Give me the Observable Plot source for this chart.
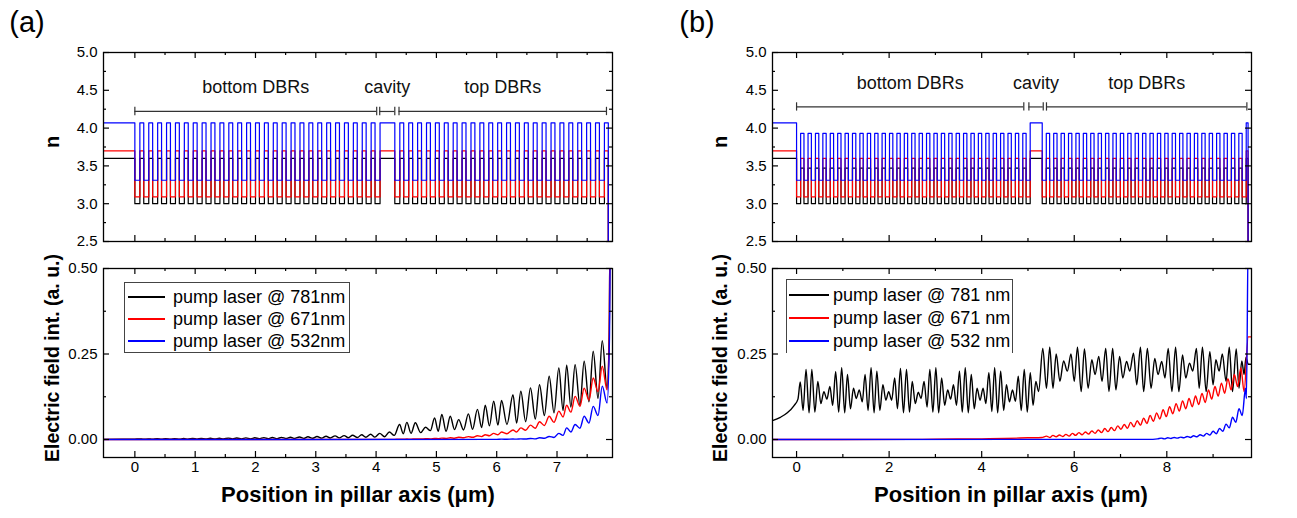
<!DOCTYPE html>
<html><head><meta charset="utf-8">
<script src="https://cdn.jsdelivr.net/npm/d3@7"></script>
<script src="https://cdn.jsdelivr.net/npm/@observablehq/plot@0.6"></script>
<style>
body{margin:0;background:#fff;font-family:"Liberation Sans",Arial,sans-serif;}
#root{position:relative;width:1297px;height:518px;overflow:hidden;background:#fff;}
.t{position:absolute;white-space:nowrap;color:#000;}
.legend{position:absolute;background:#fff;border:1px solid #444;font-size:18px;}
.legend .sw{position:absolute;height:0;border-top:2px solid;}
.legend .lb{position:absolute;line-height:22px;}
</style></head><body><div id="root"></div>
<script>
// ---------------- DATA ----------------
const panelLabels = ["(a)", "(b)"];
const xTitle = "Position in pillar axis (\u03bcm)";
const yTitleTop = "n";
const yTitleBottom = "Electric field int. (a. u.)";
const seriesColors = ["#000000", "#ff0000", "#0000ff"];
const legendA = ["pump laser @ 781nm", "pump laser @ 671nm", "pump laser @ 532nm"];
const legendB = ["pump laser @ 781 nm", "pump laser @ 671 nm", "pump laser @ 532 nm"];

// refractive index per material: [781 nm, 671 nm, 532 nm]
const materials = ["GaAs", "AlAs", "AlGaAs", "Air"];
const n781 = [3.60, 3.00, 3.47, 1.0];
const n671 = [3.70, 3.09, 3.60, 1.0];
const n532 = [4.07, 3.31, 3.93, 1.0];

// layer stacks: [materials, thicknesses (um), repeats]
const stackStartA = -0.52;
const stackA = [
  [["GaAs"], [0.52], 1],
  [["AlAs", "GaAs"], [0.083, 0.0645], 27],
  [["AlAs"], [0.083], 1],
  [["GaAs"], [0.245], 1],
  [["AlAs", "GaAs"], [0.083, 0.0645], 24],
  [["Air"], [0.2], 1]
];
const stackStartB = -0.52;
const stackB = [
  [["GaAs"], [0.52], 1],
  [["AlAs", "AlGaAs"], [0.088, 0.072], 31],
  [["AlAs"], [0.088], 1],
  [["GaAs"], [0.26], 1],
  [["AlAs", "AlGaAs"], [0.088, 0.072], 27],
  [["AlAs"], [0.088], 1],
  [["GaAs"], [0.04], 1],
  [["Air"], [0.2], 1]
];

// region brackets
const regionNames = ["bottom DBRs", "cavity", "top DBRs"];
const regionStartA = [0, 4.06, 4.38];
const regionEndA = [4.01, 4.31, 7.82];
const bracketNA = 4.22;
const regionStartB = [0, 5.02, 5.40];
const regionEndB = [4.91, 5.33, 9.73];
const bracketNB = 4.28;

// electric field intensity [x (um), value]
const efA781 = [[-0.52,0.0005],[-0.2,0.0008],[0,0.001],
[0.07,0.002],[0.15,0.0006],[0.22,0.002],[0.29,0.0007],[0.37,0.0022],[0.44,0.0008],[0.51,0.0024],[0.59,0.0009],[0.66,0.0026],[0.74,0.001],[0.81,0.0028],[0.88,0.0011],[0.96,0.003],[1.03,0.0012],[1.10,0.0033],[1.18,0.0013],[1.25,0.0035],[1.33,0.0014],[1.40,0.0038],[1.47,0.0016],[1.55,0.004],[1.62,0.0017],[1.69,0.0043],[1.77,0.0019],[1.84,0.0047],[1.92,0.002],[1.99,0.005],[2.06,0.0022],[2.14,0.0054],[2.21,0.0024],[2.28,0.0058],[2.36,0.0026],[2.43,0.0063],[2.51,0.0028],[2.58,0.0068],[2.65,0.003],[2.73,0.0074],[2.80,0.0033],[2.87,0.008],[2.95,0.0036],[3.02,0.0088],[3.10,0.004],[3.17,0.0096],[3.24,0.0044],[3.32,0.0105],[3.39,0.0048],[3.47,0.0115],[3.54,0.0053],[3.61,0.0126],[3.69,0.0058],[3.76,0.014],[3.83,0.0065],[3.91,0.0155],[3.98,0.007],
[4.06,0.018],[4.14,0.008],[4.22,0.022],[4.30,0.012],
[4.39,0.044],[4.45,0.017],[4.51,0.05],[4.58,0.018],[4.65,0.049],[4.74,0.02],[4.82,0.036],[4.90,0.026],[4.97,0.063],[5.03,0.024],[5.09,0.073],[5.16,0.024],[5.23,0.068],[5.30,0.029],[5.37,0.058],[5.45,0.028],[5.53,0.075],[5.60,0.03],[5.68,0.088],[5.75,0.035],[5.81,0.1],[5.88,0.04],[5.95,0.112],[6.02,0.042],[6.08,0.114],[6.17,0.044],[6.27,0.131],[6.33,0.048],[6.40,0.141],[6.48,0.052],[6.56,0.151],[6.64,0.06],[6.71,0.16],[6.79,0.07],[6.87,0.185],[6.95,0.078],[7.03,0.209],[7.10,0.085],[7.16,0.217],[7.23,0.095],[7.30,0.219],[7.38,0.1],[7.45,0.229],[7.53,0.11],[7.60,0.258],[7.68,0.12],[7.75,0.289],[7.83,0.15],[7.865,0.3],[7.88,0.6],[7.95,0.6]];

const efA671 = [[-0.52,0],[4.3,0.0003],
[4.39,0.001],[4.45,0.0007],[4.51,0.0015],[4.58,0.001],[4.65,0.002],[4.74,0.0014],[4.82,0.0025],[4.90,0.0018],[4.97,0.0032],[5.03,0.0024],[5.09,0.004],[5.16,0.003],[5.23,0.005],[5.30,0.0038],[5.37,0.0065],[5.45,0.005],[5.53,0.0085],[5.60,0.0065],[5.68,0.011],[5.75,0.0085],[5.81,0.014],[5.88,0.011],[5.95,0.018],[6.02,0.014],[6.08,0.022],[6.17,0.017],[6.27,0.028],[6.33,0.022],[6.40,0.034],[6.48,0.027],[6.56,0.042],[6.64,0.033],[6.71,0.052],[6.79,0.041],[6.87,0.068],[6.95,0.05],[7.03,0.083],[7.10,0.066],[7.16,0.1],[7.23,0.08],[7.30,0.126],[7.38,0.097],[7.45,0.15],[7.53,0.115],[7.60,0.18],[7.68,0.14],[7.75,0.214],[7.83,0.145],[7.865,0.3],[7.88,0.6],[7.95,0.6]];

const efA532 = [[-0.52,0],[6.0,0.0003],[6.08,0.001],[6.17,0.0006],[6.27,0.0015],[6.33,0.001],[6.40,0.002],[6.48,0.0014],[6.56,0.003],[6.64,0.002],[6.71,0.005],[6.79,0.0035],[6.87,0.009],[6.95,0.006],[7.03,0.018],[7.10,0.012],[7.16,0.034],[7.23,0.022],[7.30,0.044],[7.38,0.033],[7.45,0.068],[7.53,0.048],[7.60,0.097],[7.68,0.07],[7.75,0.156],[7.83,0.107],[7.87,0.3],[7.885,0.6],[7.95,0.6]];

const efB781 = [[-0.52,0.055],[-0.35,0.065],[-0.2,0.078],[-0.05,0.1],[0.03,0.118],
[0.08,0.168],[0.14,0.085],[0.205,0.205],[0.27,0.078],[0.33,0.205],[0.395,0.08],[0.46,0.17],[0.525,0.105],[0.59,0.14],[0.655,0.118],
[0.72,0.155],[0.78,0.1],[0.845,0.198],[0.91,0.08],[0.975,0.21],[1.04,0.078],[1.10,0.19],[1.165,0.09],[1.23,0.15],[1.29,0.12],
[1.355,0.145],[1.42,0.11],[1.48,0.19],[1.545,0.085],[1.61,0.21],[1.675,0.078],[1.735,0.2],[1.80,0.085],[1.865,0.16],[1.93,0.115],
[1.99,0.14],[2.055,0.115],[2.12,0.18],[2.18,0.09],[2.245,0.208],[2.31,0.078],[2.375,0.205],[2.44,0.08],[2.50,0.17],[2.565,0.105],
[2.63,0.138],[2.69,0.12],[2.755,0.17],[2.82,0.095],[2.88,0.205],[2.945,0.08],[3.01,0.21],[3.07,0.078],[3.135,0.18],[3.20,0.1],
[3.265,0.145],[3.33,0.118],[3.39,0.16],[3.455,0.1],[3.52,0.2],[3.58,0.08],[3.645,0.21],[3.71,0.078],[3.775,0.19],[3.84,0.09],
[3.90,0.15],[3.965,0.115],[4.03,0.15],[4.09,0.105],[4.155,0.195],[4.22,0.082],[4.28,0.21],[4.345,0.078],[4.41,0.2],[4.475,0.085],
[4.535,0.16],[4.60,0.11],[4.665,0.145],[4.73,0.112],[4.79,0.185],[4.855,0.085],[4.92,0.205],[4.985,0.08],[5.05,0.195],[5.11,0.1],
[5.17,0.17],[5.23,0.14],
[5.32,0.266],[5.40,0.15],[5.47,0.27],[5.54,0.15],[5.61,0.25],[5.69,0.17],[5.77,0.23],[5.85,0.2],[5.93,0.25],[6.00,0.17],[6.07,0.27],[6.15,0.14],[6.22,0.265],[6.30,0.15],[6.38,0.233],[6.45,0.19],[6.53,0.243],[6.60,0.17],[6.68,0.266],[6.75,0.14],[6.83,0.266],[6.90,0.145],[6.98,0.243],[7.05,0.18],[7.13,0.228],[7.20,0.2],[7.28,0.252],[7.35,0.16],[7.43,0.27],[7.50,0.14],[7.58,0.266],[7.66,0.15],[7.74,0.237],[7.81,0.19],[7.89,0.228],[7.96,0.18],[8.03,0.266],[8.11,0.14],[8.19,0.27],[8.26,0.14],[8.34,0.247],[8.41,0.18],[8.49,0.223],[8.56,0.2],[8.64,0.266],[8.70,0.15],[8.77,0.27],[8.85,0.14],[8.93,0.257],[9.00,0.16],[9.06,0.233],[9.13,0.2],[9.20,0.25],[9.28,0.17],[9.35,0.27],[9.42,0.14],[9.50,0.265],[9.56,0.15],[9.62,0.23],[9.67,0.19],[9.71,0.24],[9.76,0.22],[9.85,0.22]];

const efB671 = [[-0.52,0],[2.5,0.0003],[3.0,0.001],[3.5,0.0015],[4.0,0.002],[4.5,0.003],[5.0,0.005],[5.3,0.006],
[5.40,0.01],[5.47,0.006],[5.54,0.012],[5.61,0.008],[5.68,0.013],[5.75,0.009],[5.82,0.015],[5.89,0.01],[5.96,0.018],[6.03,0.012],[6.10,0.02],[6.17,0.014],[6.24,0.022],[6.31,0.016],[6.38,0.025],[6.45,0.018],[6.52,0.028],[6.59,0.02],[6.66,0.032],[6.73,0.023],[6.80,0.035],[6.87,0.026],[6.94,0.04],[7.01,0.03],[7.08,0.044],[7.15,0.033],[7.22,0.05],[7.29,0.037],[7.36,0.055],[7.43,0.042],[7.50,0.062],[7.57,0.047],[7.64,0.07],[7.71,0.053],[7.78,0.078],[7.85,0.06],[7.92,0.087],[7.99,0.067],[8.06,0.096],[8.13,0.075],[8.20,0.105],[8.27,0.083],[8.34,0.113],[8.41,0.09],[8.48,0.12],[8.55,0.096],[8.62,0.127],[8.69,0.102],[8.76,0.135],[8.83,0.108],[8.90,0.145],[8.97,0.118],[9.04,0.155],[9.11,0.127],[9.18,0.165],[9.25,0.135],[9.32,0.178],[9.39,0.145],[9.46,0.19],[9.53,0.155],[9.60,0.21],[9.67,0.14],[9.76,0.3],[9.85,0.3]];

const efB532 = [[-0.52,0],[7.6,0.0005],[7.8,0.002],[7.88,0.004],[7.95,0.002],[8.02,0.005],[8.09,0.003],[8.16,0.006],[8.23,0.004],[8.30,0.007],[8.37,0.005],[8.44,0.009],[8.51,0.006],[8.58,0.011],[8.65,0.008],[8.72,0.014],[8.79,0.01],[8.86,0.018],[8.93,0.013],[9.00,0.024],[9.07,0.017],[9.14,0.032],[9.21,0.024],[9.28,0.045],[9.35,0.034],[9.42,0.065],[9.49,0.05],[9.56,0.09],[9.63,0.07],[9.70,0.15],[9.72,0.12],[9.76,0.6],[9.85,0.6]];

// axis ticks
const xMajorA = [0,1,2,3,4,5,6,7], xMinorA = [0.5,1.5,2.5,3.5,4.5,5.5,6.5,7.5];
const xMajorB = [0,2,4,6,8], xMinorB = [1,3,5,7,9];
const nMajor = [2.5,3.0,3.5,4.0,4.5,5.0], nMinor = [2.75,3.25,3.75,4.25,4.75];
const eMajor = [0,0.25,0.5], eMinor = [0.125,0.375];

// ---------------- DRAWING ----------------
const root = document.getElementById("root");
const FONT = "'Liberation Sans', Arial, sans-serif";
const nTables = [n781, n671, n532];

function stackProfile(stack, x0, w) {
  const pts = []; let x = x0;
  for (const [mats, ths, reps] of stack)
    for (let r = 0; r < reps; r++)
      for (let i = 0; i < mats.length; i++) {
        pts.push({x, n: nTables[w][materials.indexOf(mats[i])]});
        x += ths[i];
      }
  pts.push({x, n: pts[pts.length - 1].n});
  return pts;
}

function panel(cfg) {
  const mL = 50, mR = 8, mT = 6, mB = 30;
  const iw = cfg.fw, ih = cfg.fh;
  const marks = [
    ...cfg.marks,
    Plot.frame({stroke: "#000", strokeWidth: 1.3}),
    Plot.tickX(cfg.xMajor, {x: d => d, insetTop: ih - 6, stroke: "#000", strokeWidth: 1.2}),
    Plot.tickX(cfg.xMajor, {x: d => d, insetBottom: ih - 6, stroke: "#000", strokeWidth: 1.2}),
    Plot.tickX(cfg.xMinor, {x: d => d, insetTop: ih - 3, stroke: "#000", strokeWidth: 1.2}),
    Plot.tickX(cfg.xMinor, {x: d => d, insetBottom: ih - 3, stroke: "#000", strokeWidth: 1.2}),
    Plot.tickY(cfg.yMajor, {y: d => d, insetRight: iw - 6, stroke: "#000", strokeWidth: 1.2}),
    Plot.tickY(cfg.yMajor, {y: d => d, insetLeft: iw - 6, stroke: "#000", strokeWidth: 1.2}),
    Plot.tickY(cfg.yMinor, {y: d => d, insetRight: iw - 3, stroke: "#000", strokeWidth: 1.2}),
    Plot.tickY(cfg.yMinor, {y: d => d, insetLeft: iw - 3, stroke: "#000", strokeWidth: 1.2}),
    Plot.text(cfg.yMajor, {y: d => d, text: cfg.yFmt, frameAnchor: "left", textAnchor: "end", dx: -6, fontSize: 15, fill: "#000"})
  ];
  if (cfg.xLabels) marks.push(Plot.text(cfg.xMajor, {x: d => d, text: d => String(d), frameAnchor: "bottom", dy: 14, fontSize: 15, fill: "#000"}));
  const svg = Plot.plot({
    width: iw + mL + mR, height: ih + mT + mB,
    marginLeft: mL, marginRight: mR, marginTop: mT, marginBottom: mB,
    x: {domain: cfg.xDomain, axis: null},
    y: {domain: cfg.yDomain, axis: null},
    style: {fontFamily: FONT, background: "transparent", overflow: "visible"},
    marks
  });
  svg.style.position = "absolute";
  svg.style.left = (cfg.left - mL) + "px";
  svg.style.top = (cfg.top - mT) + "px";
  root.appendChild(svg);
}

function topMarks(stack, x0, starts, ends, by) {
  const regions = regionNames.map((name, i) => ({name, s: starts[i], e: ends[i]}));
  const m = [];
  [0, 1, 2].forEach(w => {
    m.push(Plot.line(stackProfile(stack, x0, w), {x: "x", y: "n", curve: "step-after", stroke: seriesColors[w], strokeWidth: 1.2, clip: true}));
  });
  m.push(Plot.ruleY(regions, {y: () => by, x1: "s", x2: "e", stroke: "#333", strokeWidth: 1.2}));
  m.push(Plot.ruleX(regions, {x: "s", y1: by - 0.055, y2: by + 0.055, stroke: "#333", strokeWidth: 1.2}));
  m.push(Plot.ruleX(regions, {x: "e", y1: by - 0.055, y2: by + 0.055, stroke: "#333", strokeWidth: 1.2}));
  m.push(Plot.text(regions, {x: d => (d.s + d.e) / 2, y: () => by, dy: -24, text: "name", fontSize: 18, fill: "#111"}));
  return m;
}

function fieldMarks(series) {
  return series.map((s, w) => Plot.line(s, {x: d => d[0], y: d => d[1], curve: "monotone-x", stroke: seriesColors[w], strokeWidth: 1.4, clip: true}));
}

const A = {left: 103, fw: 509, xDomain: [-0.52, 7.92], xMajor: xMajorA, xMinor: xMinorA};
const B = {left: 772, fw: 479, xDomain: [-0.52, 9.83], xMajor: xMajorB, xMinor: xMinorB};
const TOP = {top: 52, fh: 189, yDomain: [2.5, 5.0], yMajor: nMajor, yMinor: nMinor, yFmt: d => d.toFixed(1)};
const BOT = {top: 268, fh: 189, yDomain: [-0.0526, 0.5], yMajor: eMajor, yMinor: eMinor, yFmt: d => d.toFixed(2), xLabels: true};

panel({...A, ...TOP, marks: topMarks(stackA, stackStartA, regionStartA, regionEndA, bracketNA)});
panel({...A, ...BOT, marks: fieldMarks([efA781, efA671, efA532])});
panel({...B, ...TOP, marks: topMarks(stackB, stackStartB, regionStartB, regionEndB, bracketNB)});
panel({...B, ...BOT, marks: fieldMarks([efB781, efB671, efB532])});

// texts
function text(str, cx, cy, size, weight, rotate) {
  const d = document.createElement("div");
  d.className = "t";
  d.textContent = str;
  d.style.fontSize = size + "px";
  d.style.fontWeight = weight;
  d.style.left = cx + "px"; d.style.top = cy + "px";
  d.style.transform = "translate(-50%,-50%)" + (rotate ? " rotate(-90deg)" : "");
  root.appendChild(d);
}
text(panelLabels[0], 27, 22, 29, "normal");
text(panelLabels[1], 697, 22, 29, "normal");
text(yTitleTop, 52, 142, 20, "bold", true);
text(yTitleTop, 720, 142, 20, "bold", true);
text(yTitleBottom, 52, 358, 19.5, "bold", true);
text(yTitleBottom, 720, 358, 19.5, "bold", true);
text(xTitle, 358, 495, 22, "bold");
text(xTitle, 1011, 495, 22, "bold");

function legend(labels, left, top, w, h, rowTops, swL, swW, txtL, noBottom) {
  const d = document.createElement("div");
  d.className = "legend";
  d.style.left = left + "px"; d.style.top = top + "px";
  d.style.width = w + "px"; d.style.height = h + "px";
  if (noBottom) d.style.borderBottom = "none";
  labels.forEach((lab, i) => {
    const sw = document.createElement("div");
    sw.className = "sw"; sw.style.borderColor = seriesColors[i];
    sw.style.left = swL + "px"; sw.style.width = swW + "px"; sw.style.top = (rowTops[i] - 1) + "px";
    d.appendChild(sw);
    const t = document.createElement("div");
    t.className = "lb"; t.textContent = lab;
    t.style.left = txtL + "px"; t.style.top = (rowTops[i] - 11) + "px";
    d.appendChild(t);
  });
  root.appendChild(d);
}
legend(legendA, 124, 282, 224, 69, [14, 36, 58], 3, 37, 48, false);
legend(legendB, 786, 279, 225, 73, [15, 38, 61], 2, 40, 46, true);
</script></body></html>
